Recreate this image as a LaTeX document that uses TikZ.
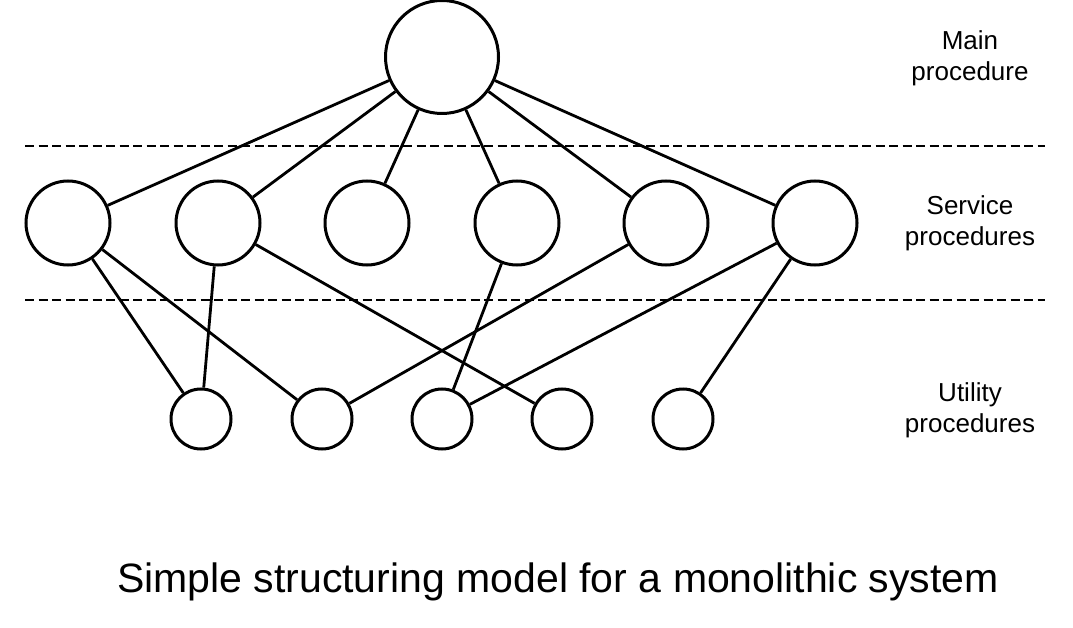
\documentclass[tikz,border=0pt]{standalone}
\usepackage{fontspec}
\setmainfont{Liberation Sans}
\begin{document}
\begin{tikzpicture}[x=1pt,y=-1pt,
  proc/.style={circle,draw=black,line width=3pt,inner sep=0pt,fill=white},
  mainproc/.style={proc,minimum size=113pt},
  servproc/.style={proc,minimum size=84pt},
  utilproc/.style={proc,minimum size=60pt},
  link/.style={line width=2.8pt,draw=black},
  layer/.style={line width=2.4pt,dash pattern=on 9pt off 4.5pt},
  lbl/.style={align=center,font=\fontsize{26}{31}\selectfont},
  caption/.style={font=\fontsize{41}{48}\selectfont,anchor=base}]
\useasboundingbox (0,0) rectangle (1073,628);
% layer separators
\coordinate (d1a) at (25,146); \coordinate (d1b) at (1045,146);
\coordinate (d2a) at (25,300); \coordinate (d2b) at (1045,300);
\draw[layer] (d1a) -- (d1b);
\draw[layer] (d2a) -- (d2b);
% nodes
\node[mainproc] (m) at (442,57) {};
\node[servproc] (s1) at (68,223) {};
\node[servproc] (s2) at (218,223) {};
\node[servproc] (s3) at (367,223) {};
\node[servproc] (s4) at (517,223) {};
\node[servproc] (s5) at (666,223) {};
\node[servproc] (s6) at (815,223) {};
\node[utilproc] (u1) at (201,419) {};
\node[utilproc] (u2) at (322,419) {};
\node[utilproc] (u3) at (442,419) {};
\node[utilproc] (u4) at (562,419) {};
\node[utilproc] (u5) at (683,419) {};
% connectors
\foreach \s in {s1,s2,s3,s4,s5,s6} \draw[link] (m) -- (\s);
\draw[link] (s1) -- (u1);
\draw[link] (s1) -- (u2);
\draw[link] (s2) -- (u1);
\draw[link] (s2) -- (u4);
\draw[link] (s4) -- (u3);
\draw[link] (s5) -- (u2);
\draw[link] (s6) -- (u3);
\draw[link] (s6) -- (u5);
% labels
\node[lbl] (lm) at (970,58) {Main\\procedure};
\node[lbl] (ls) at (970,223) {Service\\procedures};
\node[lbl] (lu) at (970,410) {Utility\\procedures};
\node[caption] (cap) at (558,592) {Simple structuring model for a monolithic system};
\end{tikzpicture}
\end{document}
